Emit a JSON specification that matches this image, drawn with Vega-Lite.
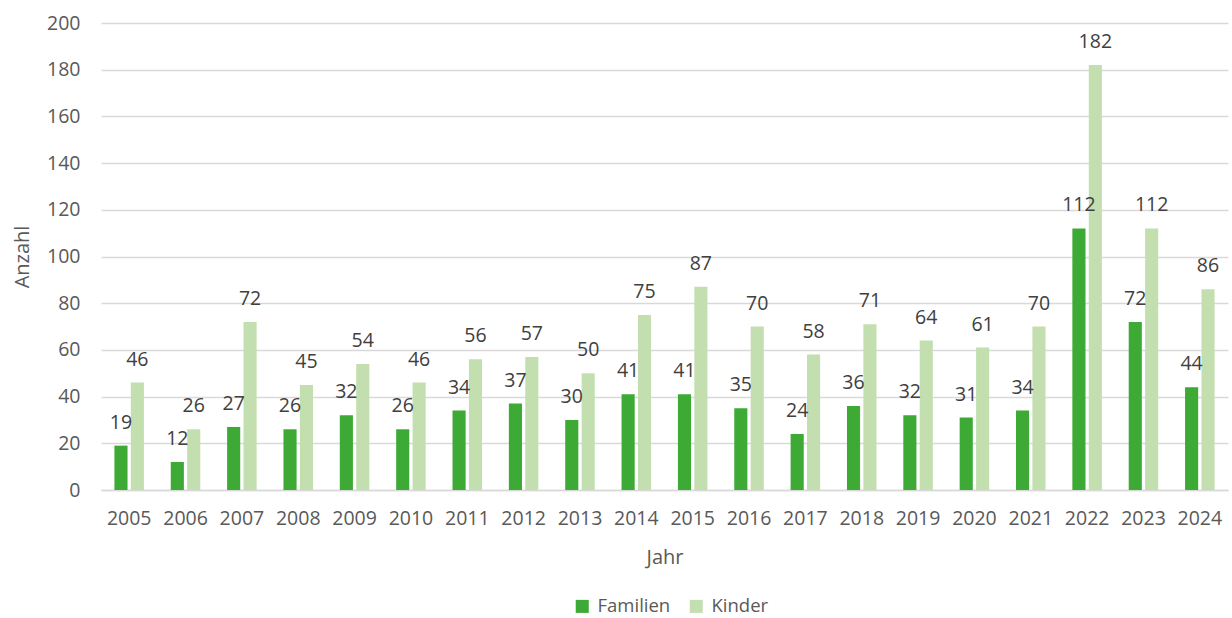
{
  "$schema": "https://vega.github.io/schema/vega-lite/v6.json",
  "autosize": {"type": "none"},
  "padding": {"left": 101, "top": 23, "right": 4, "bottom": 128},
  "width": 1127,
  "height": 467,
  "background": "white",
  "config": {
    "font": "Open Sans",
    "view": {"stroke": null},
    "axis": {"labelFont": "Open Sans", "titleFont": "Open Sans", "labelColor": "#595959", "titleColor": "#595959", "labelFontSize": 19.5, "titleFontSize": 20, "titleFontWeight": "normal"}
  },
  "data": {
    "values": [
      {"Jahr": "2005", "Serie": "Familien", "Anzahl": 19}, {"Jahr": "2005", "Serie": "Kinder", "Anzahl": 46},
      {"Jahr": "2006", "Serie": "Familien", "Anzahl": 12}, {"Jahr": "2006", "Serie": "Kinder", "Anzahl": 26},
      {"Jahr": "2007", "Serie": "Familien", "Anzahl": 27}, {"Jahr": "2007", "Serie": "Kinder", "Anzahl": 72},
      {"Jahr": "2008", "Serie": "Familien", "Anzahl": 26}, {"Jahr": "2008", "Serie": "Kinder", "Anzahl": 45},
      {"Jahr": "2009", "Serie": "Familien", "Anzahl": 32}, {"Jahr": "2009", "Serie": "Kinder", "Anzahl": 54},
      {"Jahr": "2010", "Serie": "Familien", "Anzahl": 26}, {"Jahr": "2010", "Serie": "Kinder", "Anzahl": 46},
      {"Jahr": "2011", "Serie": "Familien", "Anzahl": 34}, {"Jahr": "2011", "Serie": "Kinder", "Anzahl": 56},
      {"Jahr": "2012", "Serie": "Familien", "Anzahl": 37}, {"Jahr": "2012", "Serie": "Kinder", "Anzahl": 57},
      {"Jahr": "2013", "Serie": "Familien", "Anzahl": 30}, {"Jahr": "2013", "Serie": "Kinder", "Anzahl": 50},
      {"Jahr": "2014", "Serie": "Familien", "Anzahl": 41}, {"Jahr": "2014", "Serie": "Kinder", "Anzahl": 75},
      {"Jahr": "2015", "Serie": "Familien", "Anzahl": 41}, {"Jahr": "2015", "Serie": "Kinder", "Anzahl": 87},
      {"Jahr": "2016", "Serie": "Familien", "Anzahl": 35}, {"Jahr": "2016", "Serie": "Kinder", "Anzahl": 70},
      {"Jahr": "2017", "Serie": "Familien", "Anzahl": 24}, {"Jahr": "2017", "Serie": "Kinder", "Anzahl": 58},
      {"Jahr": "2018", "Serie": "Familien", "Anzahl": 36}, {"Jahr": "2018", "Serie": "Kinder", "Anzahl": 71},
      {"Jahr": "2019", "Serie": "Familien", "Anzahl": 32}, {"Jahr": "2019", "Serie": "Kinder", "Anzahl": 64},
      {"Jahr": "2020", "Serie": "Familien", "Anzahl": 31}, {"Jahr": "2020", "Serie": "Kinder", "Anzahl": 61},
      {"Jahr": "2021", "Serie": "Familien", "Anzahl": 34}, {"Jahr": "2021", "Serie": "Kinder", "Anzahl": 70},
      {"Jahr": "2022", "Serie": "Familien", "Anzahl": 112}, {"Jahr": "2022", "Serie": "Kinder", "Anzahl": 182},
      {"Jahr": "2023", "Serie": "Familien", "Anzahl": 72}, {"Jahr": "2023", "Serie": "Kinder", "Anzahl": 112},
      {"Jahr": "2024", "Serie": "Familien", "Anzahl": 44}, {"Jahr": "2024", "Serie": "Kinder", "Anzahl": 86}
    ]
  },
  "encoding": {
    "x": {
      "field": "Jahr", "type": "nominal", "title": "Jahr",
      "scale": {"paddingInner": 0.476, "paddingOuter": 0.238},
      "axis": {"labelAngle": 0, "ticks": false, "labelPadding": 19, "domainColor": "#d9d9d9", "domainWidth": 1.5, "titleY": 67, "titleBaseline": "middle"}
    },
    "xOffset": {"field": "Serie", "type": "nominal", "scale": {"paddingInner": 0.2, "paddingOuter": 0}},
    "y": {
      "field": "Anzahl", "type": "quantitative", "title": "Anzahl",
      "scale": {"domain": [0, 200]},
      "axis": {"values": [0, 20, 40, 60, 80, 100, 120, 140, 160, 180, 200], "domain": false, "ticks": false, "labelPadding": 21, "gridColor": "#d9d9d9", "gridWidth": 1.5, "titleX": -79, "titleBaseline": "middle"}
    }
  },
  "layer": [
    {
      "mark": {"type": "bar"},
      "encoding": {
        "color": {
          "field": "Serie", "type": "nominal",
          "scale": {"domain": ["Familien", "Kinder"], "range": ["#3DAA35", "#C3DFB0"]},
          "legend": {"title": null, "orient": "none", "direction": "horizontal", "legendX": 472, "legendY": 574, "symbolType": "square", "symbolSize": 170, "symbolStrokeWidth": 0, "labelFontSize": 18.5, "labelFont": "Open Sans", "labelColor": "#595959", "columnPadding": 16, "labelOffset": 6}
        }
      }
    },
    {
      "mark": {"type": "text", "baseline": "middle", "dy": -23, "fontSize": 19.5, "color": "#404040", "font": "Open Sans"},
      "encoding": {"text": {"field": "Anzahl", "type": "quantitative"}}
    }
  ]
}
